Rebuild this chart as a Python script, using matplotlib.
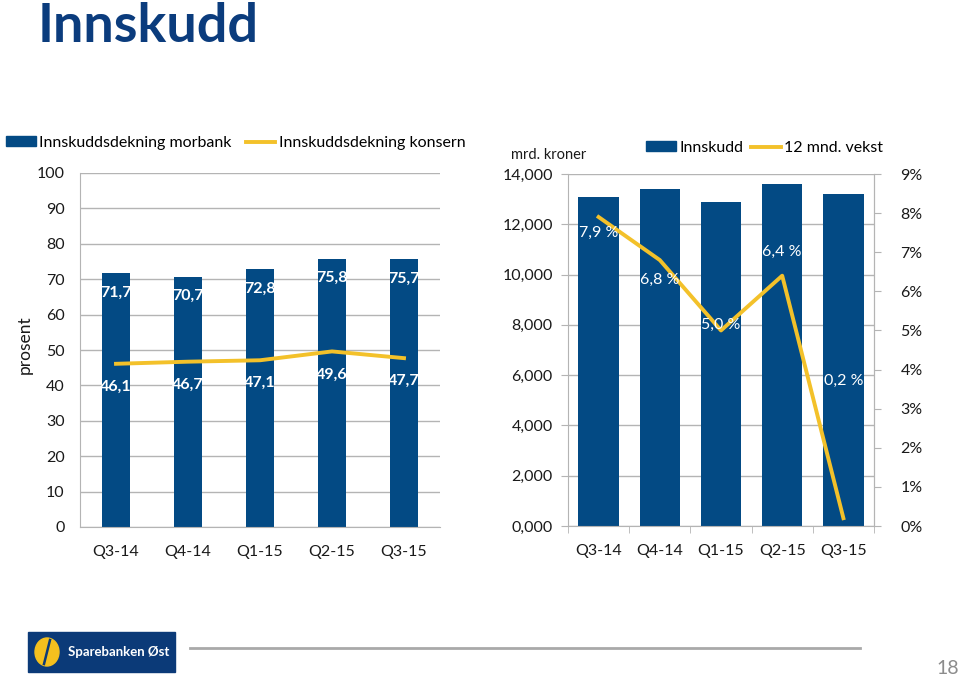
import matplotlib
matplotlib.use("Agg")
import matplotlib.pyplot as plt
from matplotlib.patches import Rectangle, Ellipse
from matplotlib.lines import Line2D

plt.rcParams['font.family'] = ['Lato', 'DejaVu Sans']

# data
kvartaler = ['Q3-14', 'Q4-14', 'Q1-15', 'Q2-15', 'Q3-15']
dekning_morbank = [71.7, 70.7, 72.8, 75.8, 75.7]
dekning_konsern = [46.1, 46.7, 47.1, 49.6, 47.7]
innskudd = [13100, 13400, 12900, 13600, 13200]
vekst = [7.9, 6.8, 5.0, 6.4, 0.2]

# label offsets (vekst, in %-points) as placed on the slide
vekst_lbl_dy = [-0.4, -0.5, 0.14, 0.6, 3.5]

BLUE = '#034a84'
YELLOW = '#f3c12a'
GRID = '#b4b4b4'
TXT = '#1a1a1a'
FS = 11.5

W, H = 960, 680
fig = plt.figure(figsize=(W / 100, H / 100), dpi=100)


def box(l, t, r, b):
    return [l / W, 1 - b / H, (r - l) / W, (b - t) / H]


# title
fig.text(38 / W, 1 - 27 / H, 'Innskudd', fontsize=39, fontweight='bold',
         color='#0b3c7d', va='center', ha='left')

# ---------- left chart ----------
ax1 = fig.add_axes(box(80, 173, 440, 527))
x = range(len(kvartaler))
ax1.bar(x, dekning_morbank, width=0.39, color=BLUE, zorder=2)
ax1.plot(x, dekning_konsern, color=YELLOW, lw=2.8, zorder=3)
ax1.set_xlim(-0.5, 4.5)
ax1.set_ylim(0, 100)
ax1.set_yticks(range(0, 101, 10))
ax1.grid(axis='y', color=GRID, lw=1, zorder=0)
ax1.set_axisbelow(True)
for s in ['top', 'right']:
    ax1.spines[s].set_visible(False)
for s in ['left', 'bottom']:
    ax1.spines[s].set_color(GRID)
ax1.tick_params(length=0, labelsize=FS, colors=TXT)
ax1.tick_params(axis='x', pad=13)
ax1.tick_params(axis='y', pad=11)
ax1.set_xticks(list(x))
ax1.set_xticklabels(kvartaler)
for i, v in enumerate(dekning_morbank):
    ax1.text(i, v - 5.5, f'{v:.1f}'.replace('.', ','), color='white',
             fontweight='bold', fontsize=FS, ha='center', va='center', zorder=4)
for i, v in enumerate(dekning_konsern):
    ax1.text(i, v - 6.5, f'{v:.1f}'.replace('.', ','), color='white',
             fontweight='bold', fontsize=FS, ha='center', va='center', zorder=4)
fig.text(25 / W, 1 - 345 / H, 'prosent', rotation=90, fontsize=12.5,
         color=TXT, ha='center', va='center')

leg1 = [Rectangle((0, 0), 1, 1, color=BLUE),
        Line2D([0], [0], color=YELLOW, lw=2.8)]
fig.legend(leg1, ['Innskuddsdekning morbank', 'Innskuddsdekning konsern'],
           loc='center left', bbox_to_anchor=(-8 / W, 1 - 143 / H), ncol=2,
           frameon=False, fontsize=FS, handlelength=1.85, handleheight=0.6,
           columnspacing=0.9, handletextpad=0.2)

# ---------- right chart ----------
ax2 = fig.add_axes(box(568, 174, 874, 526))
ax2.bar(x, innskudd, width=0.66, color=BLUE, zorder=2)
ax2.set_xlim(-0.5, 4.5)
ax2.set_ylim(0, 14000)
ax2.set_yticks(range(0, 14001, 2000))
ax2.yaxis.set_major_formatter(plt.FuncFormatter(lambda v, p: f'{int(v) // 1000},000'))
ax2.grid(axis='y', color=GRID, lw=1, zorder=0)
ax2.set_axisbelow(True)
ax2.spines['top'].set_visible(False)
for s in ['left', 'bottom', 'right']:
    ax2.spines[s].set_color(GRID)
ax2.set_xticks(list(x))
ax2.set_xticklabels(kvartaler)
ax2.set_xticks([i - 0.5 for i in range(6)], minor=True)
ax2.tick_params(axis='x', which='major', length=0, labelsize=FS, colors=TXT, pad=13)
ax2.tick_params(axis='x', which='minor', length=5, color=GRID)
ax2.tick_params(axis='y', length=5, color=GRID, labelsize=FS, labelcolor=TXT, pad=6)

ax3 = ax2.twinx()
ax3.plot(x, vekst, color=YELLOW, lw=2.8, zorder=3)
ax3.set_ylim(0, 9)
ax3.set_yticks(range(0, 10))
ax3.yaxis.set_major_formatter(plt.FuncFormatter(lambda v, p: f'{int(v)}%'))
ax3.tick_params(axis='y', length=5, color=GRID, labelsize=FS, labelcolor=TXT, pad=14)
for s in ['top', 'left', 'bottom']:
    ax3.spines[s].set_visible(False)
ax3.spines['right'].set_color(GRID)
for i, v in enumerate(vekst):
    ax3.text(i, v + vekst_lbl_dy[i], f'{v:.1f} %'.replace('.', ','), color='white',
             fontsize=FS, ha='center', va='center', zorder=4)

fig.text(511 / W, 1 - 155 / H, 'mrd. kroner', fontsize=10.5, color=TXT,
         ha='left', va='center')
leg2 = [Rectangle((0, 0), 1, 1, color=BLUE),
        Line2D([0], [0], color=YELLOW, lw=2.8)]
fig.legend(leg2, ['Innskudd', '12 mnd. vekst'],
           loc='center left', bbox_to_anchor=(632 / W, 1 - 148 / H), ncol=2,
           frameon=False, fontsize=FS, handlelength=1.85, handleheight=0.6,
           columnspacing=0.5, handletextpad=0.2)

# ---------- footer ----------
fig.add_artist(Rectangle((28 / W, 1 - 672 / H), 147 / W, 40 / H,
                         transform=fig.transFigure, color='#0b3a78'))
fig.add_artist(Ellipse((47 / W, 1 - 652 / H), 24 / W, 28 / H,
                       transform=fig.transFigure, color='#f4c01e'))
fig.add_artist(Line2D([44 / W, 50 / W], [1 - 664 / H, 1 - 640 / H],
                      transform=fig.transFigure, color='#0b3a78', lw=1.8))
fig.text(68 / W, 1 - 652 / H, 'Sparebanken Øst', fontsize=9.5,
         fontweight='bold', color='white', ha='left', va='center')
fig.add_artist(Line2D([190 / W, 860 / W], [1 - 648 / H, 1 - 648 / H],
                      transform=fig.transFigure, color='#a9a9a9', lw=2))
fig.text(948 / W, 1 - 668 / H, '18', fontsize=14, color='#8c8c8c',
         ha='center', va='center')

fig.savefig('out.png', dpi=100)
